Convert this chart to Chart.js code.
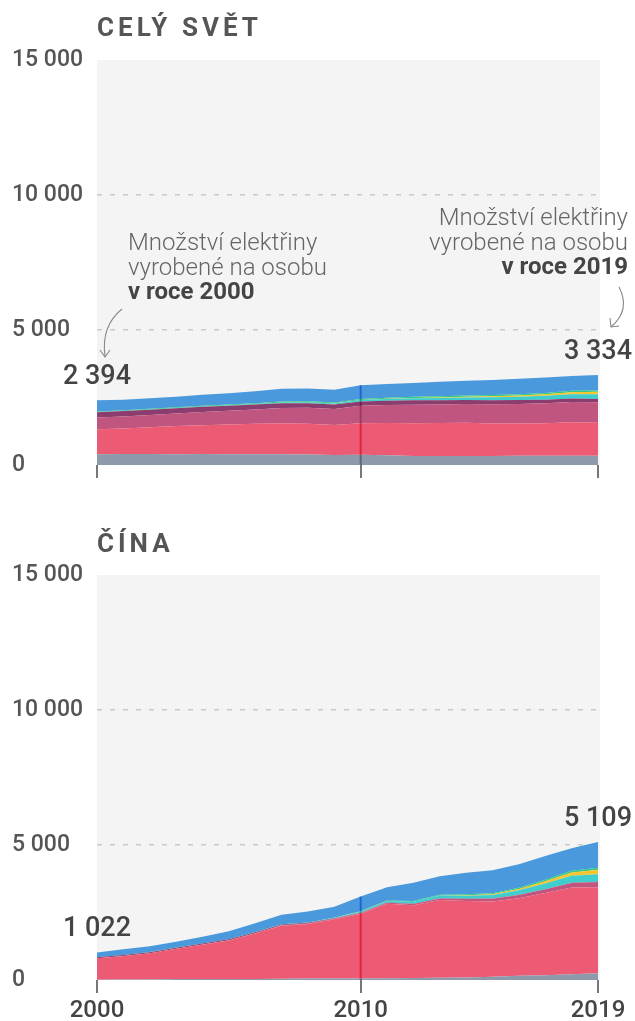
<!DOCTYPE html>
<html lang="cs"><head><meta charset="utf-8">
<script src="https://cdn.jsdelivr.net/npm/chart.js@4.4.1/dist/chart.umd.min.js"></script>
<style>
html,body{margin:0;padding:0;background:#fff;}
body{width:635px;height:1021px;position:relative;overflow:hidden;font-family:Roboto,"Noto Sans",sans-serif;}
canvas{position:absolute;left:0;}
#c1{top:0;}
#c2{top:515px;}
.title{position:absolute;left:97px;font-weight:700;font-size:26px;letter-spacing:4px;color:#555;line-height:30px;white-space:nowrap;}
.note{position:absolute;font-size:24px;font-weight:300;color:#666;line-height:24.5px;white-space:nowrap;}
.note b{font-weight:700;color:#444;}
svg{position:absolute;left:0;top:0;pointer-events:none;}
</style></head>
<body>
<canvas id="c1" width="635" height="500"></canvas>
<canvas id="c2" width="635" height="506"></canvas>
<div class="title" style="top:12px">CELÝ SVĚT</div>
<div class="title" style="top:528px">ČÍNA</div>
<div class="note" style="left:128px;top:230px;text-align:left">Množství elektřiny<br>vyrobené na osobu<br><b>v roce 2000</b></div>
<div class="note" style="right:7px;top:205px;text-align:right">Množství elektřiny<br>vyrobené na osobu<br><b>v roce 2019</b></div>
<svg width="635" height="1021">
  <g fill="none" stroke="#888" stroke-width="1.1">
    <path d="M122,309 Q101,326 105,356"/>
    <path d="M100,350 L105,357 L110,350"/>
    <path d="M619,287 Q631,310 611,327"/>
    <path d="M610,318 L611,327 L619,326"/>
  </g>
</svg>
<script>
// ---- data (kWh per person) ----
const years = [2000,2001,2002,2003,2004,2005,2006,2007,2008,2009,2010,2011,2012,2013,2014,2015,2016,2017,2018,2019];
const xTickYears = [2000, 2010, 2019];
const yTickValues = [0, 5000, 10000, 15000];
const seriesNames = ['Jádro','Uhlí','Plyn','Ropa','Vítr','Slunce','Ostatní OZE','Voda'];

const worldNuclear = [400,405,405,400,405,400,400,395,385,375,380,360,335,330,335,335,338,340,345,345];
const worldCoal    = [925,950,990,1040,1070,1100,1125,1140,1140,1110,1165,1200,1215,1230,1230,1200,1195,1210,1240,1222];
const worldGas     = [430,445,460,470,490,510,535,580,595,590,650,660,680,680,690,715,730,735,750,755];
const worldOil     = [200,200,195,195,190,185,180,175,170,165,160,160,165,155,150,145,140,135,128,125];
const worldWind    = [5,6,8,10,13,16,20,26,33,40,50,63,75,87,97,113,127,145,160,170];
const worldSolar   = [0,0,0,0,0,1,1,1,2,3,5,9,14,19,26,34,44,58,74,92];
const worldOther   = [25,25,26,27,28,29,30,31,32,34,36,38,40,42,44,46,47,48,50,50];
const worldHydro   = [409,389,386,388,404,419,439,472,473,473,504,510,516,537,548,562,569,569,553,575];

const chinaNuclear = [13,14,20,33,38,40,41,47,51,52,55,65,72,80,95,123,155,178,210,250];
const chinaCoal    = [790,870,970,1120,1265,1420,1680,1960,2020,2196,2400,2755,2700,2880,2830,2780,2870,3040,3220,3185];
const chinaGas     = [5,5,5,6,8,10,15,20,23,25,30,40,45,60,75,105,125,140,160,195];
const chinaOil     = [35,33,35,38,40,38,35,30,22,15,10,8,8,7,7,7,7,7,8,10];
const chinaWind    = [1,1,1,1,1,2,3,4,10,20,37,55,70,100,115,135,170,210,260,280];
const chinaSolar   = [0,0,0,0,0,0,0,0,0,0,1,2,3,6,17,28,48,85,125,165];
const chinaOther   = [2,2,2,2,3,3,4,5,7,8,10,20,25,28,33,38,45,55,65,75];
const chinaHydro   = [176,215,220,220,250,290,320,350,400,400,545,490,680,680,800,850,870,880,830,949];

const fills = ['#8e9aab','#ec5b73','#c0567f','#8a3d6e','#3fcdcd','#f7c52d','#2fca86','#4a99dd'];
const marks = ['#5d6776','#e3263f','#9c3a64','#6a2452','#1ea6a6','#d9a400','#17a566','#2366cf'];
const markYear = 2010;

function fmt(v){ return String(v).replace(/\B(?=(\d{3})+(?!\d))/g,' '); }

const bgPlugin = {
  id:'bg',
  beforeDraw(chart){
    const a = chart.chartArea, c = chart.ctx;
    c.save(); c.fillStyle = '#f4f4f4';
    c.fillRect(a.left, a.top, a.right - a.left + 2, a.bottom - a.top);
    c.restore();
  }
};

const markPlugin = {
  id:'mark',
  afterDatasetsDraw(chart){
    const c = chart.ctx, y = chart.scales.y, x = chart.scales.x;
    const idx = years.indexOf(markYear);
    const px = x.getPixelForValue(markYear);
    let base = y.getPixelForValue(0);
    c.save(); c.lineWidth = 2;
    chart.data.datasets.forEach((ds, i) => {
      const p = chart.getDatasetMeta(i).data[idx];
      if (Math.abs(base - p.y) > 0.2) {
        c.strokeStyle = marks[i];
        c.beginPath(); c.moveTo(px, base); c.lineTo(px, p.y); c.stroke();
      }
      base = p.y;
    });
    c.restore();
  }
};

const labelPlugin = {
  id:'vals',
  afterDraw(chart){
    const c = chart.ctx, n = chart.data.datasets.length;
    const topMeta = chart.getDatasetMeta(n - 1);
    c.save();
    c.font = '500 27px Roboto';
    c.fillStyle = '#444'; c.textAlign = 'center'; c.textBaseline = 'middle';
    [0, years.length - 1].forEach(i => {
      const total = chart.data.datasets.reduce((s, d) => s + d.data[i], 0);
      const p = topMeta.data[i];
      c.fillText(fmt(total), p.x, p.y - 23);
    });
    c.restore();
  }
};

function makeChart(id, series, showX){
  const datasets = series.map((d, i) => ({
    label: seriesNames[i], data: d, backgroundColor: fills[i], borderColor: fills[i],
    borderWidth: 0, pointRadius: 0, fill: i === 0 ? 'origin' : '-1', tension: 0
  }));
  return new Chart(document.getElementById(id), {
    type: 'line',
    data: { labels: years, datasets },
    options: {
      responsive: false, animation: false, devicePixelRatio: 1,
      layout: { padding: { left: 12, right: 37, top: 60, bottom: 0 } },
      plugins: { legend: { display: false }, tooltip: { enabled: false }, title: { display: false } },
      scales: {
        x: {
          type: 'linear', min: 2000, max: 2019,
          afterBuildTicks: s => { s.ticks = xTickYears.map(v => ({ value: v })); },
          afterFit: s => { s.height = showX ? 41 : 35; },
          grid: { drawOnChartArea: false, drawTicks: true, tickLength: 13, color: '#777', tickColor: '#777', lineWidth: 2, tickWidth: 2 },
          border: { display: false },
          ticks: { display: showX, padding: 4, maxRotation: 0, autoSkip: false, color: '#444',
                   font: { family: 'Roboto', size: 24, weight: '500' }, callback: v => String(v) }
        },
        y: {
          stacked: true, min: 0, max: 15000,
          afterBuildTicks: s => { s.ticks = yTickValues.map(v => ({ value: v })); },
          afterFit: s => { s.width = 85; },
          grid: { drawTicks: false, lineWidth: 1.5,
                  color: ctx => (ctx.tick && (ctx.tick.value === 5000 || ctx.tick.value === 10000)) ? '#c9c9c9' : 'rgba(0,0,0,0)' },
          border: { display: false, dash: [5, 8] },
          ticks: { crossAlign: 'far', padding: 0, color: '#555',
                   font: { family: 'Roboto', size: 23, weight: '500' }, callback: v => fmt(v) }
        }
      }
    },
    plugins: [bgPlugin, markPlugin, labelPlugin]
  });
}

makeChart('c1', [worldNuclear, worldCoal, worldGas, worldOil, worldWind, worldSolar, worldOther, worldHydro], false);
makeChart('c2', [chinaNuclear, chinaCoal, chinaGas, chinaOil, chinaWind, chinaSolar, chinaOther, chinaHydro], true);
</script>
</body></html>
